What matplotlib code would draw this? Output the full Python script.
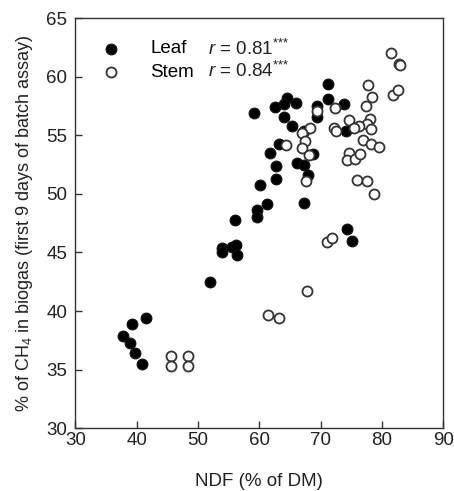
import numpy as np
import matplotlib
matplotlib.use("Agg")
import matplotlib.pyplot as plt

plt.rcParams['font.family'] = ['Liberation Sans', 'DejaVu Sans']
plt.rcParams['mathtext.fontset'] = 'custom'
plt.rcParams['mathtext.rm'] = 'Liberation Sans'
plt.rcParams['mathtext.it'] = 'Liberation Sans:italic'

# NDF (% of DM) vs % CH4, leaf samples
leaf_ndf = [71.2, 71.2, 73.8, 64.5, 62.6, 64.0, 66.0, 59.2, 64.0, 69.4, 69.4,
            65.4, 74.1, 67.3, 63.2, 61.8, 62.8, 66.1, 67.3, 68.7, 68.0, 62.7,
            60.2, 67.3, 61.2, 59.6, 59.6, 56.1, 74.4, 75.1, 54.0, 54.0, 55.5,
            56.2, 56.4, 51.9, 41.5, 39.2, 37.7, 38.9, 39.7, 40.8]
leaf_ch4 = [59.4, 58.1, 57.7, 58.2, 57.4, 57.7, 57.8, 56.9, 56.6, 57.5, 56.6,
            55.8, 55.4, 55.4, 54.3, 53.5, 52.4, 52.6, 52.5, 53.4, 51.6, 51.3,
            50.8, 49.2, 49.1, 48.6, 48.0, 47.8, 47.0, 46.0, 45.4, 45.0, 45.5,
            45.6, 44.8, 42.5, 39.4, 38.9, 37.9, 37.3, 36.4, 35.5]

# stem samples
stem_ndf = [45.6, 45.6, 48.3, 48.3, 61.5, 63.3, 67.8, 71.1, 71.9, 81.5, 82.8,
            83.0, 81.8, 82.6, 77.8, 78.4, 77.4, 72.3, 69.4, 74.6, 78.0, 77.6,
            78.2, 76.3, 75.5, 72.2, 72.6, 77.0, 78.2, 79.6, 74.6, 74.4, 75.7,
            76.5, 75.9, 77.6, 78.8, 68.3, 66.9, 67.5, 66.9, 68.2, 64.3, 67.6]
stem_ch4 = [36.2, 35.3, 36.2, 35.3, 39.7, 39.4, 41.7, 45.9, 46.2, 62.0, 61.1,
            61.0, 58.4, 58.9, 59.3, 58.3, 57.5, 57.3, 57.1, 56.3, 56.4, 56.0,
            55.5, 55.8, 55.6, 55.6, 55.4, 54.6, 54.3, 54.0, 53.5, 52.9, 53.0,
            53.4, 51.2, 51.1, 50.0, 55.6, 55.2, 54.5, 53.9, 53.3, 54.2, 51.1]

r_labels = [r'$r$ = 0.81$^{\text{***}}$', r'$r$ = 0.84$^{\text{***}}$']

fig = plt.figure(figsize=(4.54, 4.91), dpi=100)
ax = fig.add_axes([0.166, 0.128, 0.810, 0.835])

ax.scatter(leaf_ndf, leaf_ch4, s=60, c='black', edgecolors='#111111',
           linewidths=0.8, label='Leaf', zorder=3)
ax.scatter(stem_ndf, stem_ch4, s=52, c='white', edgecolors='#333333',
           linewidths=1.3, label='Stem', zorder=3)

ax.set_xlim(30, 90)
ax.set_ylim(30, 65)
ax.set_xticks(range(30, 91, 10))
ax.set_yticks(range(30, 66, 5))
ax.tick_params(labelsize=13.5, length=5, width=1, direction='in',
               colors='#333333', labelcolor='#222222')
ax.tick_params(axis='x', pad=3)
ax.tick_params(axis='y', pad=6)
for sp in ax.spines.values():
    sp.set_linewidth(1)
    sp.set_color('#333333')

ax.set_xlabel('NDF (% of DM)', fontsize=13.5, labelpad=17, color='#222222')
ax.set_ylabel('% of CH$_4$ in biogas (first 9 days of batch assay)',
              fontsize=13, labelpad=8, color='#222222')

ax.legend(loc='upper left', bbox_to_anchor=(0.045, 0.946), frameon=False,
          fontsize=13.5, handletextpad=1.1, labelspacing=0.32,
          borderaxespad=0.0, borderpad=0.0, scatterpoints=1)
ax.text(0.36, 0.925, r_labels[0], transform=ax.transAxes,
        fontsize=13.5, va='center', color='#222222')
ax.text(0.36, 0.871, r_labels[1], transform=ax.transAxes,
        fontsize=13.5, va='center', color='#222222')

fig.savefig('out.png', dpi=100)
